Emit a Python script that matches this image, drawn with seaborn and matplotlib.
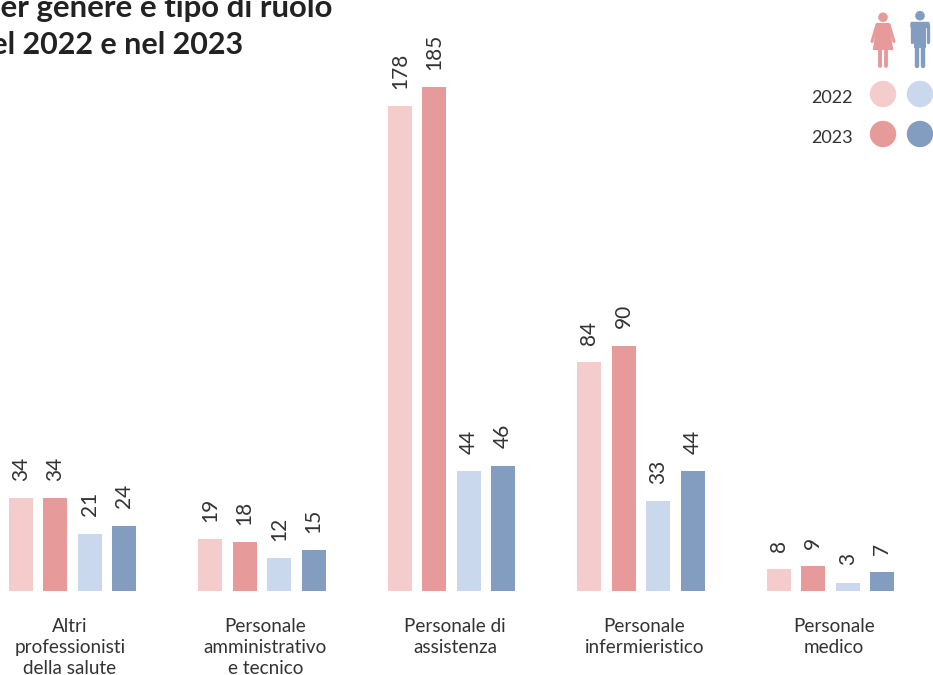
import matplotlib
matplotlib.use("Agg")
import matplotlib.pyplot as plt
from matplotlib.patches import Polygon, Circle, FancyBboxPatch
from matplotlib.transforms import ScaledTranslation
import pandas as pd
import seaborn as sns

categories = ["Altri\nprofessionisti\ndella salute", "Personale\namministrativo\ne tecnico",
              "Personale di\nassistenza", "Personale\ninfermieristico", "Personale\nmedico"]
donne_2022 = [34, 19, 178, 84, 8]
donne_2023 = [34, 18, 185, 90, 9]
uomini_2022 = [21, 12, 44, 33, 3]
uomini_2023 = [24, 15, 46, 44, 7]
series_names = ["Donne 2022", "Donne 2023", "Uomini 2022", "Uomini 2023"]
colors = ["#F3CCCB", "#E79A9A", "#C9D8EC", "#839DC0"]
title_lines = ["Personale per genere e tipo di ruolo", "nel 2022 e nel 2023"]
label_shift_px = [-2.5, 3.5, 3.5, 3.5, 3.5]
text_color = "#333333"

sns.set_theme(style="white")
plt.rcParams["font.family"] = ["Lato", "DejaVu Sans"]

W, H = 933, 675
fig = plt.figure(figsize=(W / 100, H / 100), dpi=100)
ax = fig.add_axes([0, (H - 591) / H, 1, 591 / H])

rows = []
for name, vals in zip(series_names, [donne_2022, donne_2023, uomini_2022, uomini_2023]):
    for c, v in zip(categories, vals):
        rows.append({"categoria": c, "serie": name, "valore": v})
df = pd.DataFrame(rows)

sns.barplot(data=df, x="categoria", y="valore", hue="serie", order=categories,
            hue_order=series_names, palette=colors, saturation=1, linewidth=0,
            width=0.728, gap=0.296, legend=False, errorbar=None, ax=ax)

step = 189.5
ax.set_xlim(-72.5 / step, (W - 72.5) / step)
ax.set_ylim(0, 591 / 2.724)
ax.set_xlabel("")
ax.set_ylabel("")
ax.set_yticks([])
sns.despine(ax=ax, left=True, bottom=True)
ax.tick_params(axis="x", length=0, pad=19.5)
ax.set_xticks(range(len(categories)))
ax.set_xticklabels(categories, fontsize=13.6, color=text_color, linespacing=1.28, va="top")
for lab, dx in zip(ax.get_xticklabels(), label_shift_px):
    lab.set_transform(lab.get_transform() + ScaledTranslation(dx / 100, 0, fig.dpi_scale_trans))

for cont in ax.containers:
    ax.bar_label(cont, rotation=90, padding=12.5, fontsize=15, color=text_color, label_type="edge")

# overlay in pixel coordinates for title and pictogram legend
ov = fig.add_axes([0, 0, 1, 1], facecolor="none")
ov.set_xlim(0, W)
ov.set_ylim(H, 0)
ov.axis("off")

ov.text(332, 8, title_lines[0], ha="right", va="center", fontsize=22.4, fontweight="bold", color="#222222")
ov.text(243, 45, title_lines[1], ha="right", va="center", fontsize=22, fontweight="bold", color="#222222")

for y, label, c1, c2 in [(94, "2022", colors[0], colors[2]), (134, "2023", colors[1], colors[3])]:
    ov.add_patch(Circle((883, y), 13.2, color=c1, lw=0))
    ov.add_patch(Circle((920, y), 13.2, color=c2, lw=0))
    ov.text(853, y + 4, label, ha="right", va="center", fontsize=13, color=text_color)

# woman icon
pk = colors[1]
ov.add_patch(Circle((883, 17.3), 4.8, color=pk, lw=0))
ov.add_patch(Polygon([(877, 23), (889, 23), (893.3, 50), (872.7, 50)], closed=True, color=pk, lw=0))
for xs, ys in [([877, 872], [24.5, 41.5]), ([889, 894], [24.5, 41.5])]:
    ov.plot(xs, ys, color=pk, lw=2.2, solid_capstyle="round")
for x0 in (880.2, 885.8):
    ov.plot([x0, x0], [50, 66.3], color=pk, lw=2.8, solid_capstyle="round")

# man icon
bl = colors[3]
ov.add_patch(Circle((920, 15.7), 4.8, color=bl, lw=0))
ov.add_patch(FancyBboxPatch((912, 23.5), 16, 3, boxstyle="round,pad=1.7", color=bl, lw=0))
ov.add_patch(Polygon([(914, 23), (926, 23), (926, 48), (914, 48)], closed=True, color=bl, lw=0))
for x0 in (911.7, 928.3):
    ov.plot([x0, x0], [25, 42.2], color=bl, lw=2.4, solid_capstyle="round")
for x0 in (917.1, 922.9):
    ov.plot([x0, x0], [45, 65.5], color=bl, lw=3.2, solid_capstyle="round")

fig.savefig("out.png", dpi=100, facecolor="white")
